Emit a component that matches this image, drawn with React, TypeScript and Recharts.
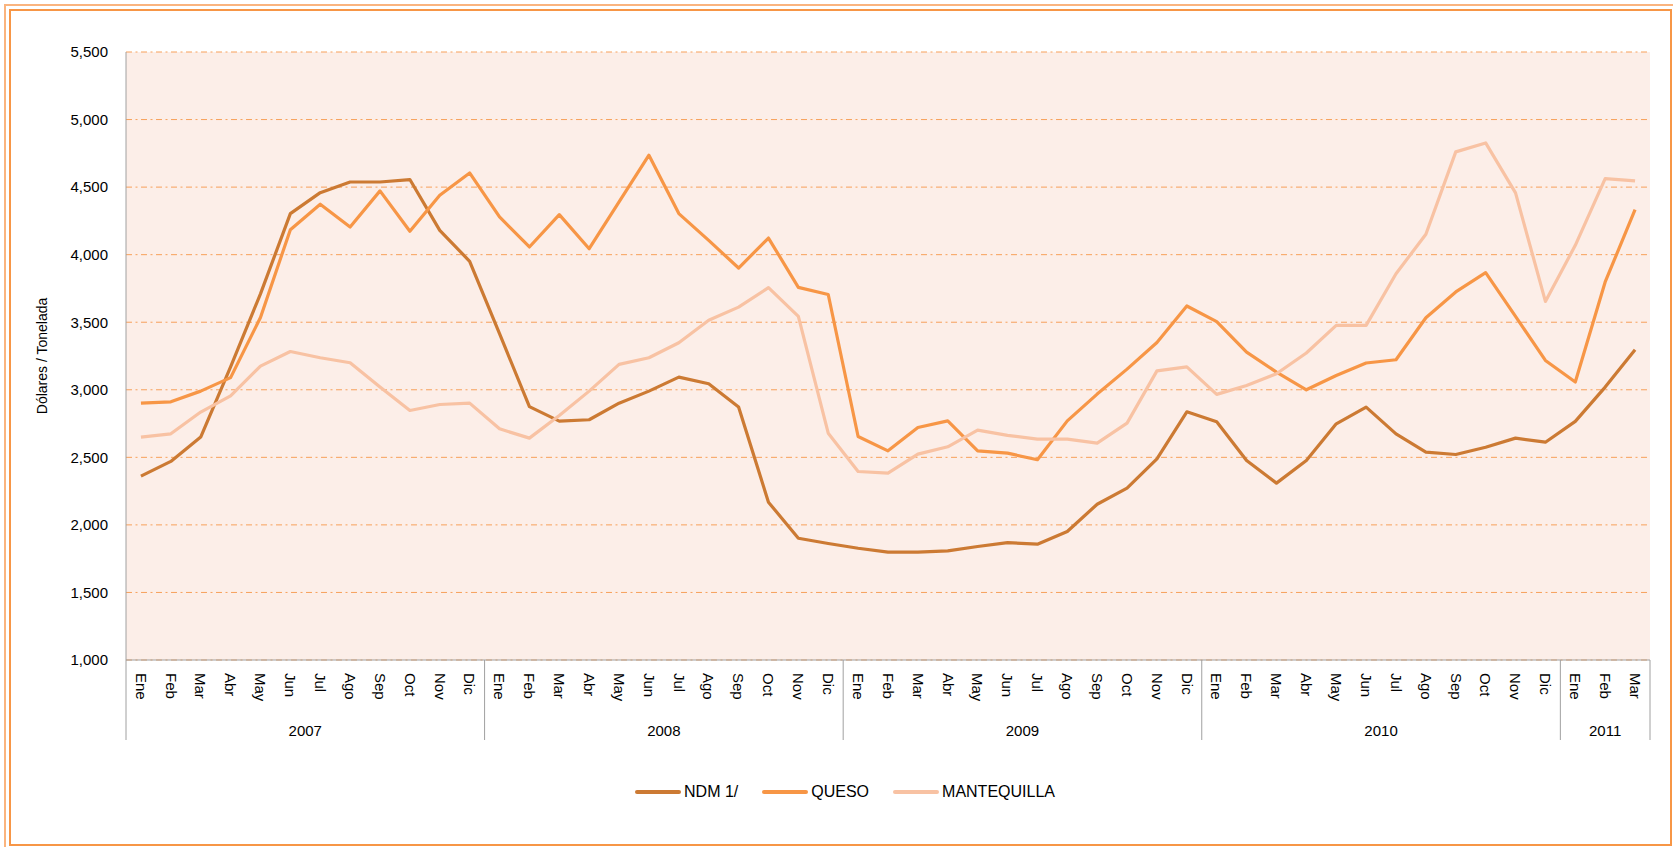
import React from 'react';
import { LineChart, Line, XAxis, YAxis, CartesianGrid, Legend } from 'recharts';

// categories
const monthNames = ['Ene', 'Feb', 'Mar', 'Abr', 'May', 'Jun', 'Jul', 'Ago', 'Sep', 'Oct', 'Nov', 'Dic'];
const yearLabels = ['2007', '2008', '2009', '2010', '2011'];
const monthsPerYear = [12, 12, 12, 12, 3];

// series (US$ / tonelada)
const ndm = [
  2361, 2470, 2650, 3170, 3710, 4304, 4459, 4538, 4538, 4556, 4180, 3951,
  3415, 2875, 2768, 2778, 2901, 2990, 3094, 3045, 2872, 2168, 1901, 1862,
  1827, 1798, 1798, 1808, 1840, 1869, 1857, 1951, 2153, 2272, 2489, 2837,
  2764, 2477, 2309, 2477, 2748, 2872, 2674, 2538, 2521, 2575, 2642, 2612,
  2766, 3020, 3297,
];
const queso = [
  2901, 2911, 2990, 3090, 3535, 4185, 4373, 4205, 4472, 4173, 4440, 4605,
  4279, 4057, 4296, 4044, 4390, 4736, 4304, 4106, 3901, 4123, 3758, 3705,
  2654, 2548, 2721, 2770, 2548, 2531, 2482, 2770, 2968, 3153, 3350, 3620,
  3505, 3279, 3131, 3000, 3106, 3198, 3222, 3533, 3724, 3867, 3543, 3217,
  3057, 3798, 4333,
];
const mantequilla = [
  2650, 2674, 2835, 2955, 3175, 3283, 3237, 3200, 3020, 2847, 2891, 2901,
  2711, 2642, 2810, 2990, 3188, 3237, 3348, 3514, 3612, 3756, 3543, 2679,
  2395, 2383, 2524, 2578, 2701, 2662, 2635, 2635, 2605, 2753, 3140, 3170,
  2966, 3032, 3119, 3272, 3477, 3477, 3859, 4151, 4761, 4827, 4457, 3654,
  4069, 4563, 4546,
];

const yTicks = [1000, 1500, 2000, 2500, 3000, 3500, 4000, 4500, 5000, 5500];

const series = [
  { key: 'ndm', name: 'NDM 1/', color: '#CC7A33' },
  { key: 'queso', name: 'QUESO', color: '#F79646' },
  { key: 'mantequilla', name: 'MANTEQUILLA', color: '#F8C2A3' },
];

const W = 1673;
const H = 847;
const margin = { top: 52, right: 23, bottom: 97, left: 20 };
const Y_AXIS_W = 106;
const X_AXIS_H = 90;
const PLOT_W = W - margin.left - margin.right - Y_AXIS_W;

// build rows
const data: any[] = [];
const yearStart: number[] = [];
yearLabels.forEach((yr, yi) => {
  yearStart.push(data.length);
  for (let m = 0; m < monthsPerYear[yi]; m++) {
    const i = data.length;
    data.push({
      key: `${yr}-${monthNames[m]}`,
      month: monthNames[m],
      ndm: ndm[i],
      queso: queso[i],
      mantequilla: mantequilla[i],
    });
  }
});

const step = PLOT_W / data.length;
const axisGrey = '#A0A0A0';

const MonthTick = (props: any) => {
  const { x, y } = props;
  const i = props.index ?? props.payload?.index ?? 0;
  const row = data[i];
  const parts: React.ReactNode[] = [];
  const ty = y + 13;

  parts.push(
    <text
      key="m"
      x={x}
      y={ty}
      dy="0.35em"
      transform={`rotate(90, ${x}, ${ty})`}
      textAnchor="start"
      fontSize={15}
      fill="#000"
    >
      {row ? row.month : ''}
    </text>
  );

  const yi = yearStart.findIndex((s, k) => i >= s && i < s + monthsPerYear[k]);
  if (yi >= 0) {
    const s = yearStart[yi];
    const n = monthsPerYear[yi];
    if (i === s) {
      parts.push(<line key="s" x1={x - step / 2} x2={x - step / 2} y1={y} y2={y + 80} stroke={axisGrey} />);
    }
    if (i === data.length - 1) {
      parts.push(<line key="e" x1={x + step / 2} x2={x + step / 2} y1={y} y2={y + 80} stroke={axisGrey} />);
    }
    const mid = (n - 1) / 2;
    if (i === s + Math.floor(mid)) {
      parts.push(
        <text key="y" x={x + (mid - Math.floor(mid)) * step} y={y + 76} textAnchor="middle" fontSize={15} fill="#000">
          {yearLabels[yi]}
        </text>
      );
    }
  }
  return <g>{parts}</g>;
};

const renderLegend = () => (
  <div
    style={{
      display: 'flex',
      justifyContent: 'center',
      alignItems: 'center',
      paddingLeft: 17,
      fontSize: 16,
      color: '#000',
      height: 24,
    }}
  >
    {series.map((s, k) => (
      <div key={s.key} style={{ display: 'flex', alignItems: 'center', marginRight: k < series.length - 1 ? 24 : 0 }}>
        <svg width={46} height={8} style={{ marginRight: 3 }}>
          <line x1={2} x2={44} y1={4} y2={4} stroke={s.color} strokeWidth={4} strokeLinecap="round" />
        </svg>
        <span>{s.name}</span>
      </div>
    ))}
  </div>
);

export default function App() {
  return (
    <div
      style={{
        position: 'absolute',
        left: 0,
        top: 0,
        width: W,
        height: H,
        overflow: 'hidden',
        background: '#fff',
        fontFamily: '"Liberation Sans", Arial, sans-serif',
      }}
    >
      <div style={{ position: 'absolute', left: 4, top: 4, width: 1700, height: 880, border: '2px solid #FAB47E', boxSizing: 'border-box' }} />
      <div style={{ position: 'absolute', left: 9, top: 9, width: 1663, height: 837, border: '2px solid #F79646', boxSizing: 'border-box' }} />
      <div style={{ position: 'absolute', left: 0, top: 0 }}>
        <LineChart width={W} height={H} data={data} margin={margin}>
          <CartesianGrid vertical={false} stroke="#F7A05A" strokeDasharray="6 3.5 2 3.5" fill="#FCEEE8" fillOpacity={1} />
          <XAxis
            dataKey="key"
            type="category"
            scale="band"
            interval={0}
            height={X_AXIS_H}
            tickLine={false}
            tickSize={0}
            tickMargin={0}
            axisLine={{ stroke: axisGrey }}
            tick={<MonthTick />}
          />
          <YAxis
            type="number"
            domain={[1000, 5500]}
            ticks={yTicks}
            width={Y_AXIS_W}
            tickLine={false}
            tickSize={0}
            tickMargin={18}
            axisLine={{ stroke: axisGrey }}
            tick={{ fontSize: 15, fill: '#000' }}
            tickFormatter={(v: number) => v.toLocaleString('en-US')}
            label={{
              value: 'Dólares / Tonelada',
              angle: -90,
              position: 'insideLeft',
              offset: 22,
              style: { textAnchor: 'middle', fontSize: 14, fill: '#000' },
            }}
          />
          <Legend
            verticalAlign="middle"
            align="center"
            layout="horizontal"
            wrapperStyle={{ top: 780, left: 0, width: W, height: 24 }}
            content={renderLegend}
          />
          {series.map((s) => (
            <Line
              key={s.key}
              dataKey={s.key}
              name={s.name}
              type="linear"
              stroke={s.color}
              strokeWidth={3.2}
              strokeLinejoin="round"
              dot={false}
              activeDot={false}
              isAnimationActive={false}
            />
          ))}
        </LineChart>
      </div>
    </div>
  );
}
